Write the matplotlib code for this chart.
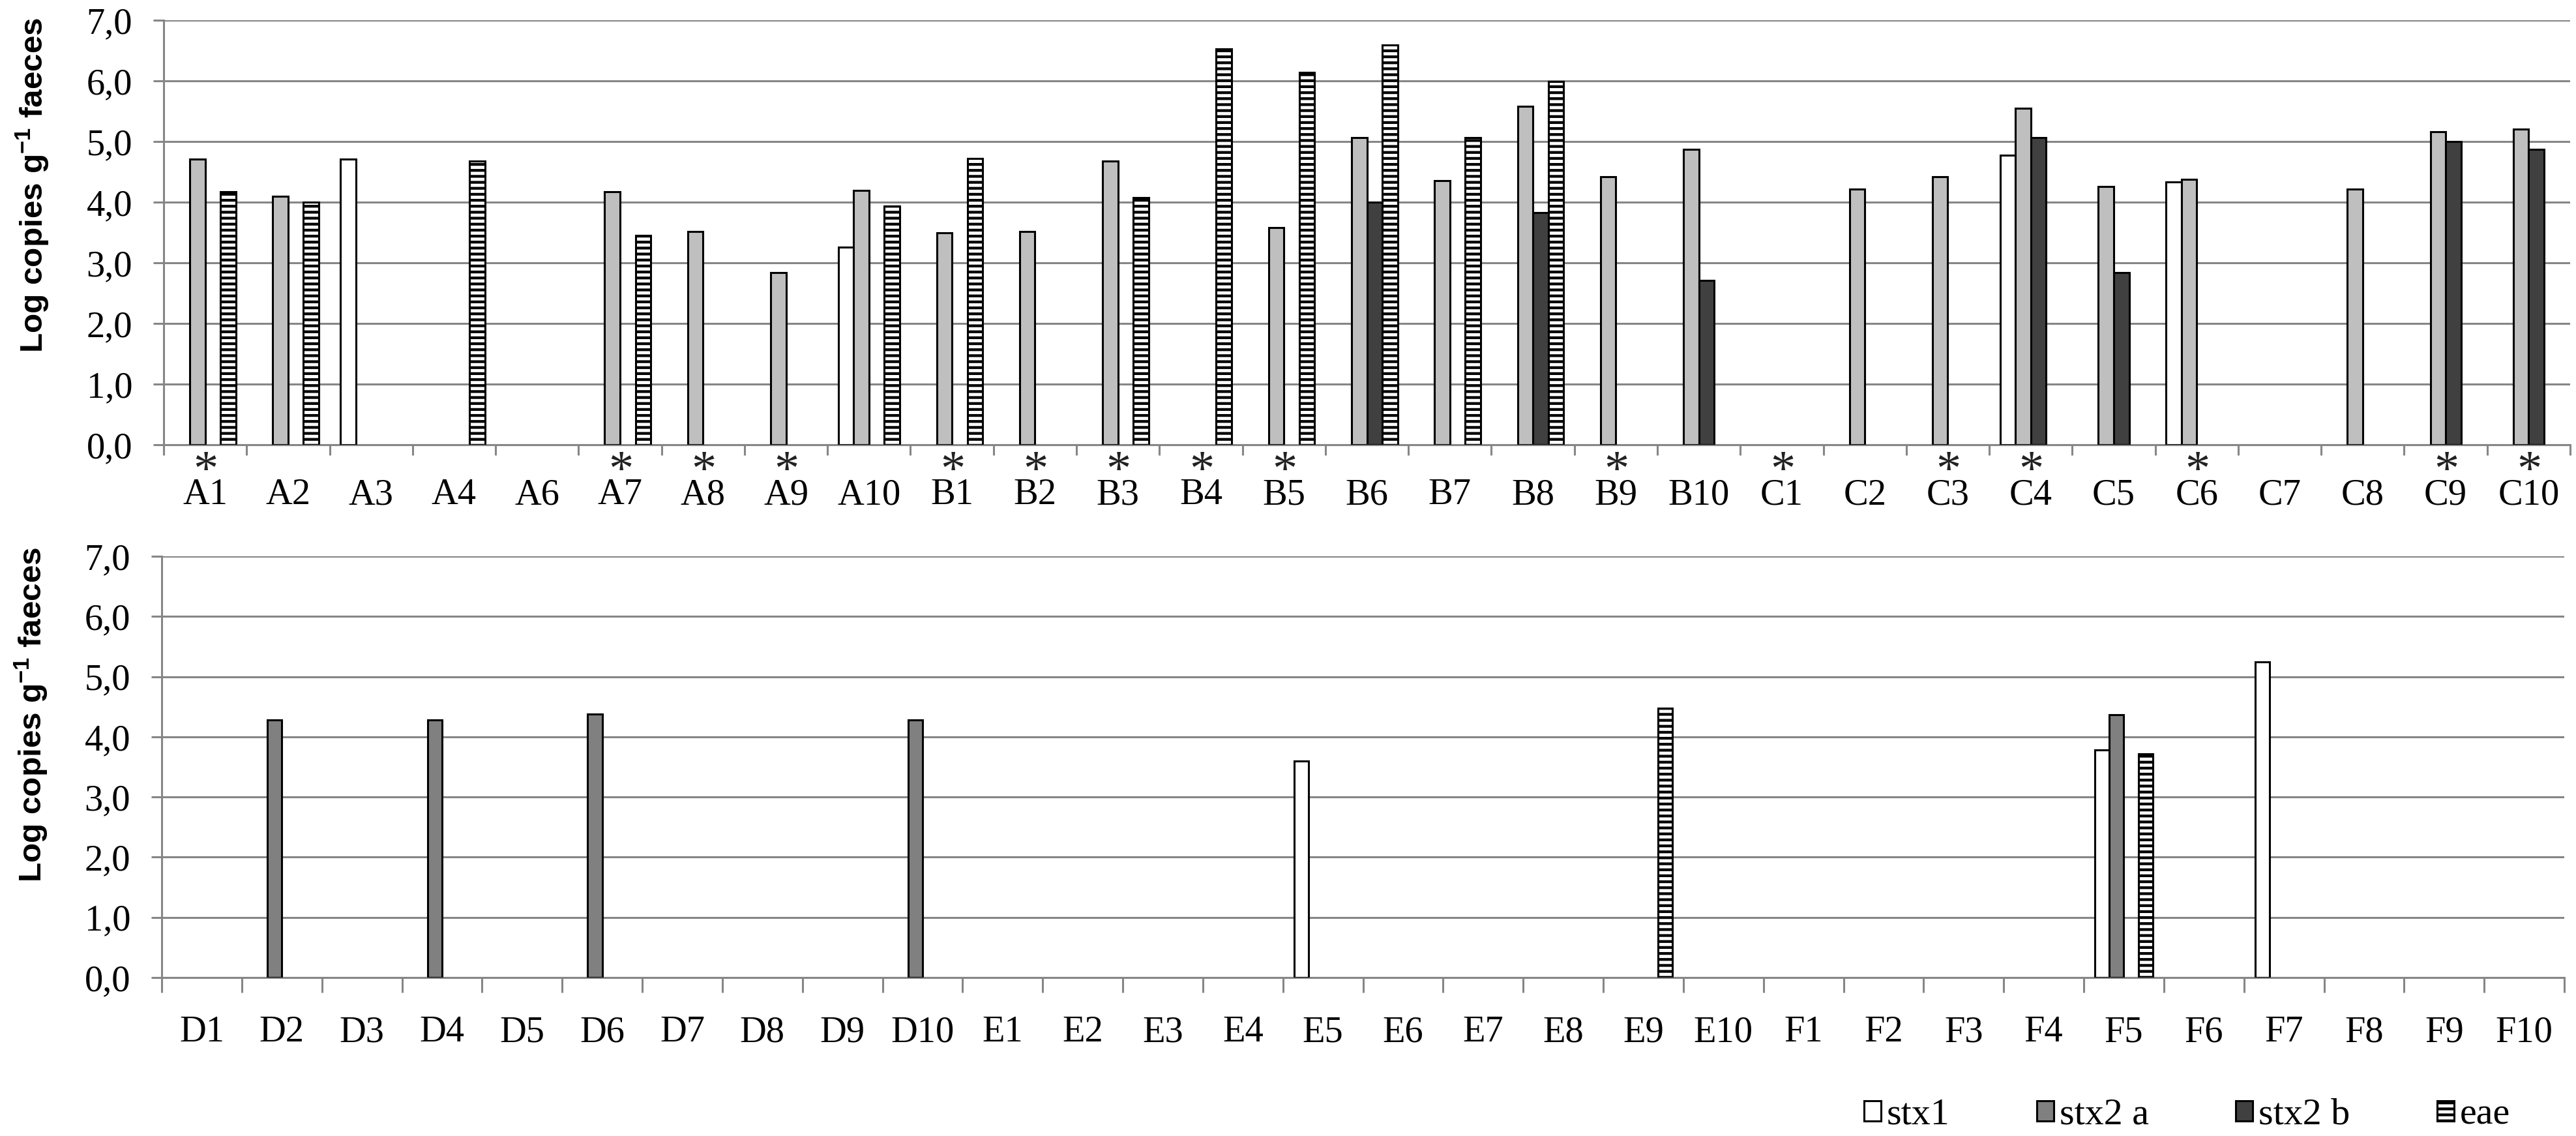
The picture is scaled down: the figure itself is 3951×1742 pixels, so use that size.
import numpy as np
import matplotlib
matplotlib.use("Agg")
import matplotlib.pyplot as plt
from matplotlib.patches import Patch
from matplotlib.transforms import blended_transform_factory

# ---------------- data ----------------
top_categories = ["A1", "A2", "A3", "A4", "A6", "A7", "A8", "A9", "A10",
                  "B1", "B2", "B3", "B4", "B5", "B6", "B7", "B8", "B9", "B10",
                  "C1", "C2", "C3", "C4", "C5", "C6", "C7", "C8", "C9", "C10"]
top_stx1 = [0, 0, 4.71, 0, 0, 0, 0, 0, 3.26,
            0, 0, 0, 0, 0, 0, 0, 0, 0, 0,
            0, 0, 0, 4.77, 0, 4.33, 0, 0, 0, 0]
top_stx2a = [4.71, 4.10, 0, 0, 0, 4.17, 3.52, 2.84, 4.19,
             3.49, 3.52, 4.68, 0, 3.58, 5.06, 4.35, 5.58, 4.42, 4.87,
             0, 4.22, 4.42, 5.55, 4.26, 4.38, 0, 4.22, 5.16, 5.20]
top_stx2b = [0, 0, 0, 0, 0, 0, 0, 0, 0,
             0, 0, 0, 0, 0, 4.00, 0, 3.83, 0, 2.71,
             0, 0, 0, 5.06, 2.84, 0, 0, 0, 5.00, 4.87]
top_eae = [4.17, 4.00, 0, 4.68, 0, 3.45, 0, 0, 3.94,
           4.72, 0, 4.07, 6.53, 6.14, 6.59, 5.06, 5.99, 0, 0,
           0, 0, 0, 0, 0, 0, 0, 0, 0, 0]
top_marked = ["A1", "A7", "A8", "A9", "B1", "B2", "B3", "B4", "B5", "B9",
              "C1", "C3", "C4", "C6", "C9", "C10"]

bottom_categories = ["D1", "D2", "D3", "D4", "D5", "D6", "D7", "D8", "D9", "D10",
                     "E1", "E2", "E3", "E4", "E5", "E6", "E7", "E8", "E9", "E10",
                     "F1", "F2", "F3", "F4", "F5", "F6", "F7", "F8", "F9", "F10"]
bottom_stx1 = [0, 0, 0, 0, 0, 0, 0, 0, 0, 0,
               0, 0, 0, 0, 3.60, 0, 0, 0, 0, 0,
               0, 0, 0, 0, 3.78, 0, 5.25, 0, 0, 0]
bottom_stx2a = [0, 4.28, 0, 4.28, 0, 4.38, 0, 0, 0, 4.28,
                0, 0, 0, 0, 0, 0, 0, 0, 0, 0,
                0, 0, 0, 0, 4.37, 0, 0, 0, 0, 0]
bottom_stx2b = [0] * 30
bottom_eae = [0, 0, 0, 0, 0, 0, 0, 0, 0, 0,
              0, 0, 0, 0, 0, 0, 0, 0, 4.47, 0,
              0, 0, 0, 0, 3.72, 0, 0, 0, 0, 0]

series_names = ["stx1", "stx2 a", "stx2 b", "eae"]
y_ticks = [0, 1, 2, 3, 4, 5, 6, 7]
y_label = r"Log copies g$^{\mathregular{-1}}$ faeces"

# ---------------- style ----------------
W, H, DPI = 3951, 1742, 220
SERIF = ["Liberation Serif", "DejaVu Serif"]
SANS = ["Liberation Sans", "DejaVu Sans"]
GRID = "#868686"
plt.rcParams["hatch.linewidth"] = 1.4
plt.rcParams["font.family"] = SERIF
plt.rcParams["mathtext.fontset"] = "custom"
plt.rcParams["mathtext.rm"] = "Liberation Sans"

fig = plt.figure(figsize=(W / DPI, H / DPI), dpi=DPI)
fig.patch.set_facecolor("white")


def setup_panel(rect, cats, series, colors, width, ticklen, marked=None):
    ax = fig.add_axes(rect)
    n = len(cats)
    x = np.arange(n) + 0.5
    styles = [
        dict(facecolor=colors[0], edgecolor="black"),
        dict(facecolor=colors[1], edgecolor="black"),
        dict(facecolor=colors[2], edgecolor="black"),
        dict(facecolor="white", edgecolor="black", hatch="----"),
    ]
    for i, (vals, st) in enumerate(zip(series, styles)):
        vals = np.asarray(vals, dtype=float)
        m = vals > 0
        if m.any():
            ax.bar(x[m] + (i - 1.5) * width, vals[m], width=width,
                   linewidth=1.0, zorder=3, **st)
    ax.set_xlim(0, n)
    ax.set_ylim(0, 7)
    ax.set_yticks(y_ticks)
    ax.set_yticklabels([f"{v:.1f}".replace(".", ",") for v in y_ticks],
                       fontsize=18.5, family=SERIF)
    ax.yaxis.grid(True, color=GRID, linewidth=1.0, zorder=0)
    ax.set_axisbelow(True)
    ax.set_xticks(np.arange(n + 1))
    ax.set_xticklabels([])
    ax.set_xticks(x, minor=True)
    ax.set_xticklabels(cats, minor=True, fontsize=18.5, family=SERIF)
    ax.tick_params(axis="x", which="major", length=ticklen, width=1.0,
                   color=GRID, direction="out")
    ax.tick_params(axis="x", which="minor", length=0, pad=ticklen + 11.5)
    ax.tick_params(axis="y", length=5.2, width=1.0, color=GRID,
                   direction="out", pad=10.5)
    for s in ["top", "right"]:
        ax.spines[s].set_visible(False)
    for s in ["left", "bottom"]:
        ax.spines[s].set_color(GRID)
        ax.spines[s].set_linewidth(1.0)
    if marked:
        tr = blended_transform_factory(ax.transData, ax.transAxes)
        for i, c in enumerate(cats):
            if c in marked:
                ax.text(x[i], -0.091, r"$\mathregular{*}$", transform=tr,
                        ha="center", va="baseline", fontsize=25,
                        color="#222222")
    return ax


ax1 = setup_panel([251 / W, 1 - 682 / H, 3691 / W, 651 / H],
                  top_categories, [top_stx1, top_stx2a, top_stx2b, top_eae],
                  ["white", "#BFBFBF", "#404040"], 0.185, 5.2, top_marked)
ax2 = setup_panel([248 / W, 1 - 1499 / H, 3685 / W, 646 / H],
                  bottom_categories,
                  [bottom_stx1, bottom_stx2a, bottom_stx2b, bottom_eae],
                  ["white", "#808080", "#404040"], 0.18, 7.5)

fig.text(50 / W, 1 - 284 / H, y_label, rotation=90, ha="center", va="center",
         fontsize=16.2, fontweight="bold", family=SANS)
fig.text(48 / W, 1 - 1096 / H, y_label, rotation=90, ha="center", va="center",
         fontsize=16.2, fontweight="bold", family=SANS)

handles = [
    Patch(facecolor="white", edgecolor="black", linewidth=1.0),
    Patch(facecolor="#808080", edgecolor="black", linewidth=1.0),
    Patch(facecolor="#404040", edgecolor="black", linewidth=1.0),
    Patch(facecolor="white", edgecolor="black", hatch="----", linewidth=1.0),
]
fig.legend(handles, series_names, loc="center right",
           bbox_to_anchor=(3850 / W, 1 - 1710 / H), ncol=4, frameon=False,
           handlelength=0.45, handleheight=0.45,
           handletextpad=0.15, columnspacing=2.3, borderpad=0,
           borderaxespad=0, prop={"family": SERIF, "size": 19})

fig.savefig("out.png", dpi=DPI, facecolor="white")
